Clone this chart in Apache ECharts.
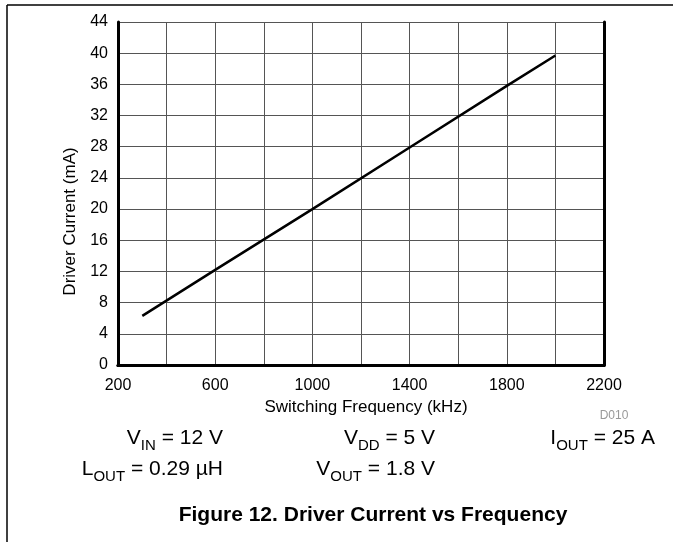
<!DOCTYPE html>
<html>
<head>
<meta charset="utf-8">
<script src="https://cdn.jsdelivr.net/npm/echarts@6/dist/echarts.min.js"></script>
<style>
html,body{margin:0;padding:0;background:#fff;}
#chart{width:673px;height:542px;}
</style>
</head>
<body>
<div id="chart"></div>
<script>
// ---- data ----
const freqKHz = [300, 600, 1000, 1400, 1800, 2000];
const driverCurrentMA = [6.3, 12.2, 20.0, 27.9, 35.8, 39.7];
const xTicks = [200, 600, 1000, 1400, 1800, 2200];
const yTicks = [0, 4, 8, 12, 16, 20, 24, 28, 32, 36, 40, 44];
const xAxisTitle = 'Switching Frequency (kHz)';
const yAxisTitle = 'Driver Current (mA)';
const figureTitle = 'Figure 12. Driver Current vs Frequency';
const figureCode = 'D010';

const FONT = '"Liberation Sans", Arial, sans-serif';
const chart = echarts.init(document.getElementById('chart'), null, {renderer: 'canvas'});

const seriesData = freqKHz.map((f, i) => [f, driverCurrentMA[i]]);

const rich = {
  m: {fontSize: 21, fontFamily: FONT, color: '#000', lineHeight: 24, verticalAlign: 'middle'},
  s: {fontSize: 15, fontFamily: FONT, color: '#000', lineHeight: 24, verticalAlign: 'bottom', padding: [0, 0, -3, 0]}
};

function note(x, y, text, align) {
  return {
    type: 'text', x: x, y: y, z: 10,
    style: {text: text, rich: rich, align: align || 'right', verticalAlign: 'middle', font: '21px ' + FONT, fill: '#000'}
  };
}

const lineOnlyAxis = {
  show: true, axisLine: {show: true, lineStyle: {color: '#000', width: 3}},
  axisTick: {show: false}, axisLabel: {show: false}, splitLine: {show: false}, z: 5
};

chart.setOption({
  animation: false,
  backgroundColor: '#fff',
  grid: {left: 118, right: 69, top: 22, bottom: 177},
  xAxis: [
    {
      type: 'value', min: 200, max: 2200, interval: 200,
      name: xAxisTitle, nameLocation: 'middle', nameGap: 26,
      nameTextStyle: {fontSize: 17, fontFamily: FONT, color: '#000', padding: [0, 0, 0, 10]},
      axisLine: {show: false}, axisTick: {show: false},
      axisLabel: {
        fontSize: 16, fontFamily: FONT, color: '#000', margin: 13,
        formatter: v => (xTicks.indexOf(v) >= 0 ? String(v) : '')
      },
      splitLine: {show: true, lineStyle: {color: '#555', width: 1}},
      z: 1
    },
    Object.assign({type: 'value', min: 200, max: 2200, position: 'bottom'}, lineOnlyAxis),
    Object.assign({type: 'value', min: 200, max: 2200, position: 'top'}, lineOnlyAxis)
  ],
  yAxis: [
    {
      type: 'value', min: 0, max: 44, interval: 4,
      name: yAxisTitle, nameLocation: 'middle', nameGap: 33,
      nameTextStyle: {fontSize: 17, fontFamily: FONT, color: '#000', padding: [0, 56, 0, 0]},
      axisLine: {show: false}, axisTick: {show: false},
      axisLabel: {
        fontSize: 16, fontFamily: FONT, color: '#000', margin: 10,
        formatter: v => (yTicks.indexOf(v) >= 0 ? String(v) : '')
      },
      splitLine: {show: true, lineStyle: {color: '#555', width: 1}},
      z: 1
    },
    Object.assign({type: 'value', min: 0, max: 44, position: 'left'}, lineOnlyAxis),
    Object.assign({type: 'value', min: 0, max: 44, position: 'right'}, lineOnlyAxis)
  ],
  series: [{
    type: 'line', xAxisIndex: 0, yAxisIndex: 0,
    data: seriesData, showSymbol: false, symbol: 'none',
    lineStyle: {color: '#000', width: 2.5}, z: 4
  }],
  graphic: [
    {type: 'line', shape: {x1: 7, y1: 5, x2: 673, y2: 5}, style: {stroke: '#000', lineWidth: 1.5}},
    {type: 'line', shape: {x1: 7, y1: 5, x2: 7, y2: 542}, style: {stroke: '#000', lineWidth: 1.5}},
    {type: 'text', x: 614, y: 416, style: {text: figureCode, font: '12px ' + FONT, fill: '#999', align: 'center', verticalAlign: 'middle'}},
    note(223, 438, '{m|V}{s|IN}{m| = 12 V}'),
    note(435, 438, '{m|V}{s|DD}{m| = 5 V}'),
    note(655, 438, '{m|I}{s|OUT}{m| = 25 A}'),
    note(223, 469, '{m|L}{s|OUT}{m| = 0.29 µH}'),
    note(435, 469, '{m|V}{s|OUT}{m| = 1.8 V}'),
    {type: 'text', x: 373, y: 515, style: {text: figureTitle, font: 'bold 21px ' + FONT, fill: '#000', align: 'center', verticalAlign: 'middle'}}
  ]
});
</script>
</body>
</html>
